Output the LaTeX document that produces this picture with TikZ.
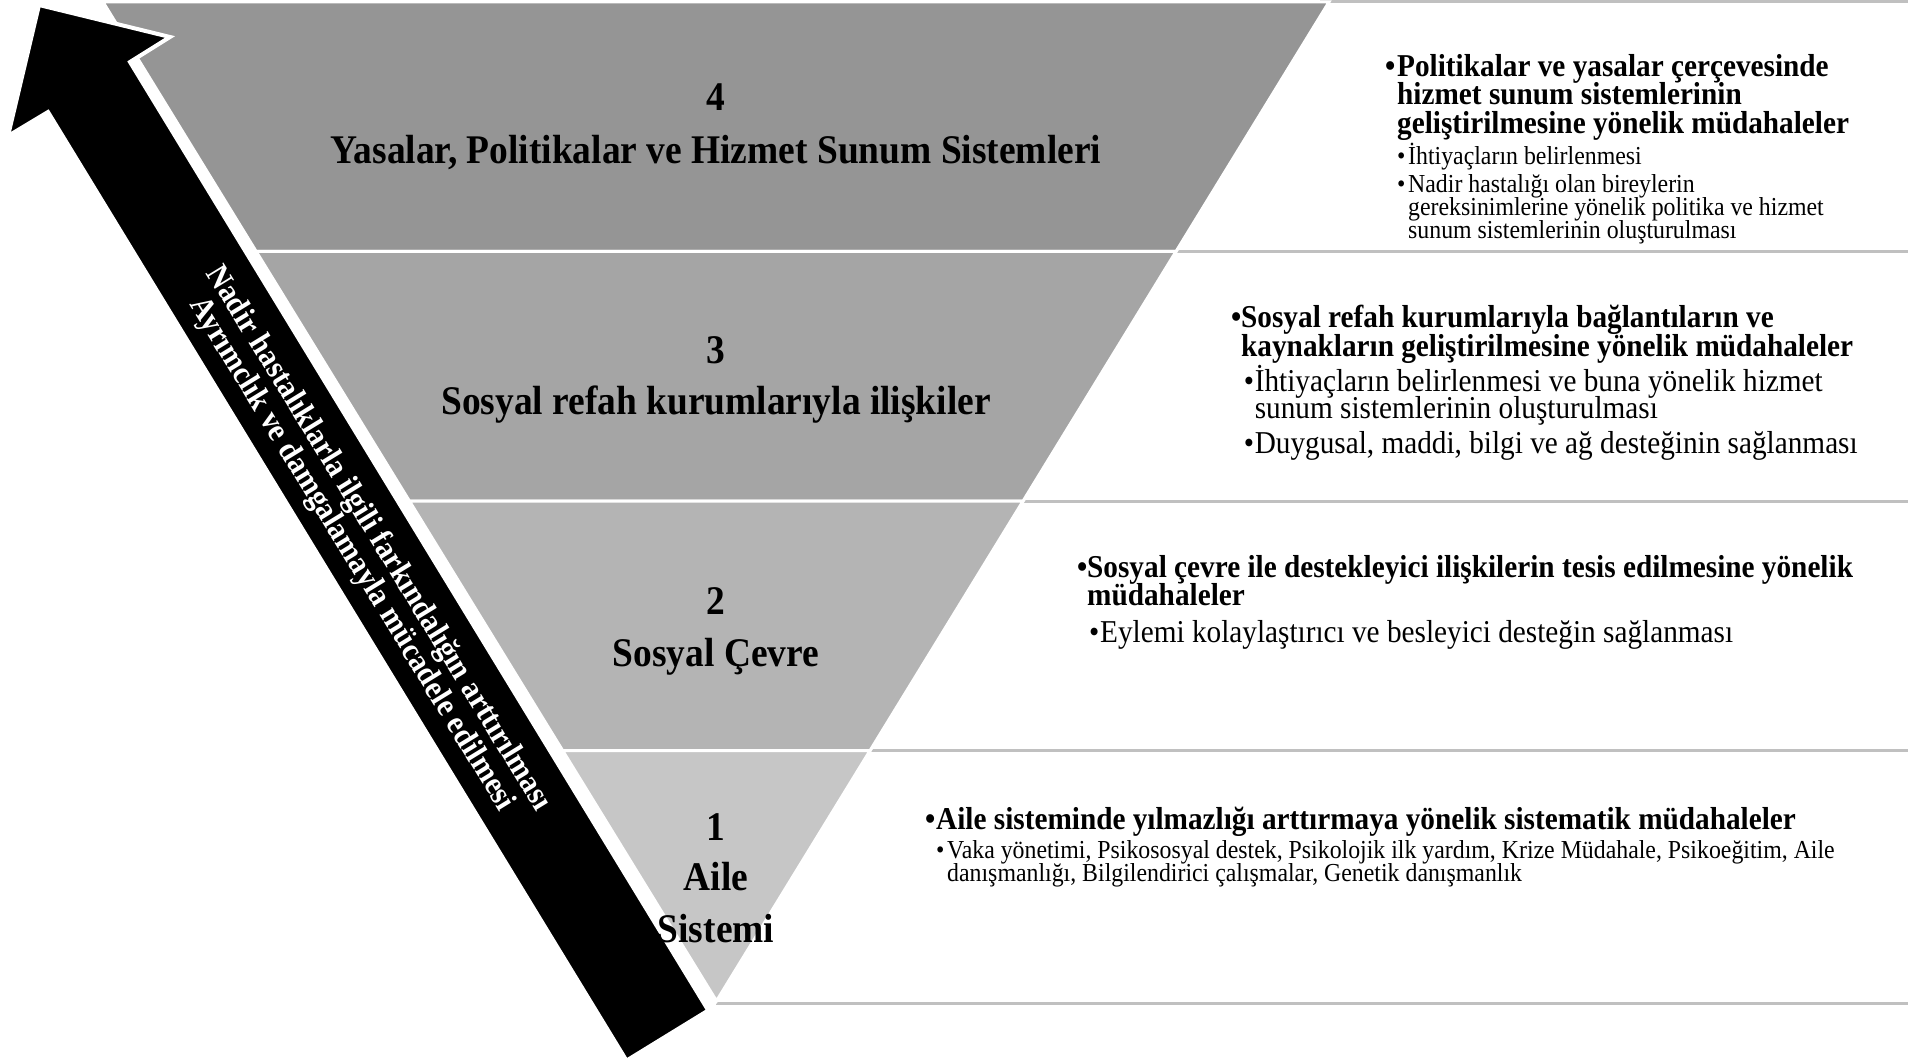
\documentclass[tikz,border=0pt]{standalone}
\usepackage{fontspec}
\setmainfont{Liberation Serif}[FakeStretch=0.92]
\definecolor{tierFour}{HTML}{959595}
\definecolor{tierThree}{HTML}{A5A5A5}
\definecolor{tierTwo}{HTML}{B4B4B4}
\definecolor{tierOne}{HTML}{C6C6C6}
\definecolor{rulegray}{HTML}{C0C0C0}
% bullet paragraph with hanging indent; first-line baseline is the box baseline
\newlength\bulhang
\newcommand\bulletpar[2]{\setlength\bulhang{#1}\parbox[t]{1000pt}{\lineskiplimit=-50pt\relax
  \hangindent=\bulhang\hangafter=1\relax\noindent\makebox[\bulhang][l]{\textbullet}#2}}
\begin{document}
\begin{tikzpicture}[x=1pt,y=-1pt,
  tier/.style={draw=white, line width=3pt, line join=miter},
  rowrule/.style={draw=rulegray, line width=3pt},
  tierlabel/.style={font=\fontsize{40.7}{44}\selectfont\bfseries, inner sep=0pt, anchor=base},
  mainpt/.style={font=\fontsize{31.8}{28.5}\selectfont\bfseries, inner sep=0pt, anchor=base west},
  subpt/.style={font=\fontsize{31.8}{28}\selectfont, inner sep=0pt, anchor=base west},
  smallpt/.style={font=\fontsize{25.9}{23}\selectfont, inner sep=0pt, anchor=base west},
  banner/.style={font=\fontsize{32.3}{31}\selectfont\bfseries, text=white, inner sep=0pt, align=center, rotate=-58.5}]

\useasboundingbox (0,0) rectangle (1908,1064);
\fill[white] (0,0) rectangle (1908,1064);

% rules to the right of each tier
\draw[rowrule] (1320,1.5) -- (1908,1.5);
\draw[rowrule] (1170,251.5) -- (1908,251.5);
\draw[rowrule] (1017,501) -- (1908,501);
\draw[rowrule] (864,750.5) -- (1908,750.5);
\draw[rowrule] (716,1003) -- (1908,1003);

% inverted pyramid tiers
\filldraw[tier, fill=tierFour] (103,2) -- (1329,2) -- (1176,251.5) -- (256.2,251.5) -- cycle;
\filldraw[tier, fill=tierThree] (256.2,251.5) -- (1176,251.5) -- (1023.1,501) -- (409.4,501) -- cycle;
\filldraw[tier, fill=tierTwo] (409.4,501) -- (1023.1,501) -- (870.1,750.5) -- (562.6,750.5) -- cycle;
\filldraw[tier, fill=tierOne] (562.6,750.5) -- (870.1,750.5) -- (716.5,1001) -- cycle;

% upward arrow
\filldraw[draw=white, line width=4pt, fill=black]
  (708.3,1010.4) -- (130,62) -- (170,37) -- (39,5) -- (8,136) -- (48,112) -- (626.5,1060.6) -- cycle;
\node[banner] (awareness) at (364.6,546.6)
  {Nadir hastalıklarla ilgili farkındalığın arttırılması\\Ayrımclık ve damgalamayla mücadele edilmesi};

% tier labels
\node[tierlabel] (n4) at (716,111) {4};
\node[tierlabel] (t4) at (716,164) {Yasalar, Politikalar ve Hizmet Sunum Sistemleri};
\node[tierlabel] (n3) at (716,363) {3};
\node[tierlabel] (t3) at (716,414) {Sosyal refah kurumlarıyla ilişkiler};
\node[tierlabel] (n2) at (716,614) {2};
\node[tierlabel] (t2) at (716,666) {Sosyal Çevre};
\node[tierlabel] (n1) at (716,840) {1};
\node[tierlabel] (t1a) at (716,890) {Aile};
\node[tierlabel] (t1b) at (716,942) {Sistemi};

% tier 4 interventions
\node[mainpt] (b4) at (1385,76.5) {\bulletpar{12pt}{Politikalar ve yasalar çerçevesinde\\hizmet sunum sistemlerinin\\geliştirilmesine yönelik müdahaleler}};
\node[smallpt] (b4a) at (1397,164.5) {\bulletpar{11pt}{İhtiyaçların belirlenmesi}};
\node[smallpt] (b4b) at (1397,193) {\bulletpar{11pt}{Nadir hastalığı olan bireylerin\\gereksinimlerine yönelik politika ve hizmet\\sunum sistemlerinin oluşturulması}};

% tier 3 interventions
\node[mainpt] (b3) at (1231,328) {\bulletpar{10pt}{Sosyal refah kurumlarıyla bağlantıların ve\\kaynakların geliştirilmesine yönelik müdahaleler}};
\node[subpt] (b3a) at (1243.6,391) {\bulletpar{11pt}{İhtiyaçların belirlenmesi ve buna yönelik hizmet\\sunum sistemlerinin oluşturulması}};
\node[subpt] (b3b) at (1243.6,453) {\bulletpar{11pt}{Duygusal, maddi, bilgi ve ağ desteğinin sağlanması}};

% tier 2 interventions
\node[mainpt] (b2) at (1077,577) {\bulletpar{10pt}{Sosyal çevre ile destekleyici ilişkilerin tesis edilmesine yönelik\\müdahaleler}};
\node[subpt] (b2a) at (1089,642) {\bulletpar{11pt}{Eylemi kolaylaştırıcı ve besleyici desteğin sağlanması}};

% tier 1 interventions
\node[mainpt] (b1) at (925,829.5) {\bulletpar{11pt}{Aile sisteminde yılmazlığı arttırmaya yönelik sistematik müdahaleler}};
\node[smallpt] (b1a) at (936,858.5) {\bulletpar{11pt}{Vaka yönetimi, Psikososyal destek, Psikolojik ilk yardım, Krize Müdahale, Psikoeğitim, Aile\\danışmanlığı, Bilgilendirici çalışmalar, Genetik danışmanlık}};
\end{tikzpicture}
\end{document}
